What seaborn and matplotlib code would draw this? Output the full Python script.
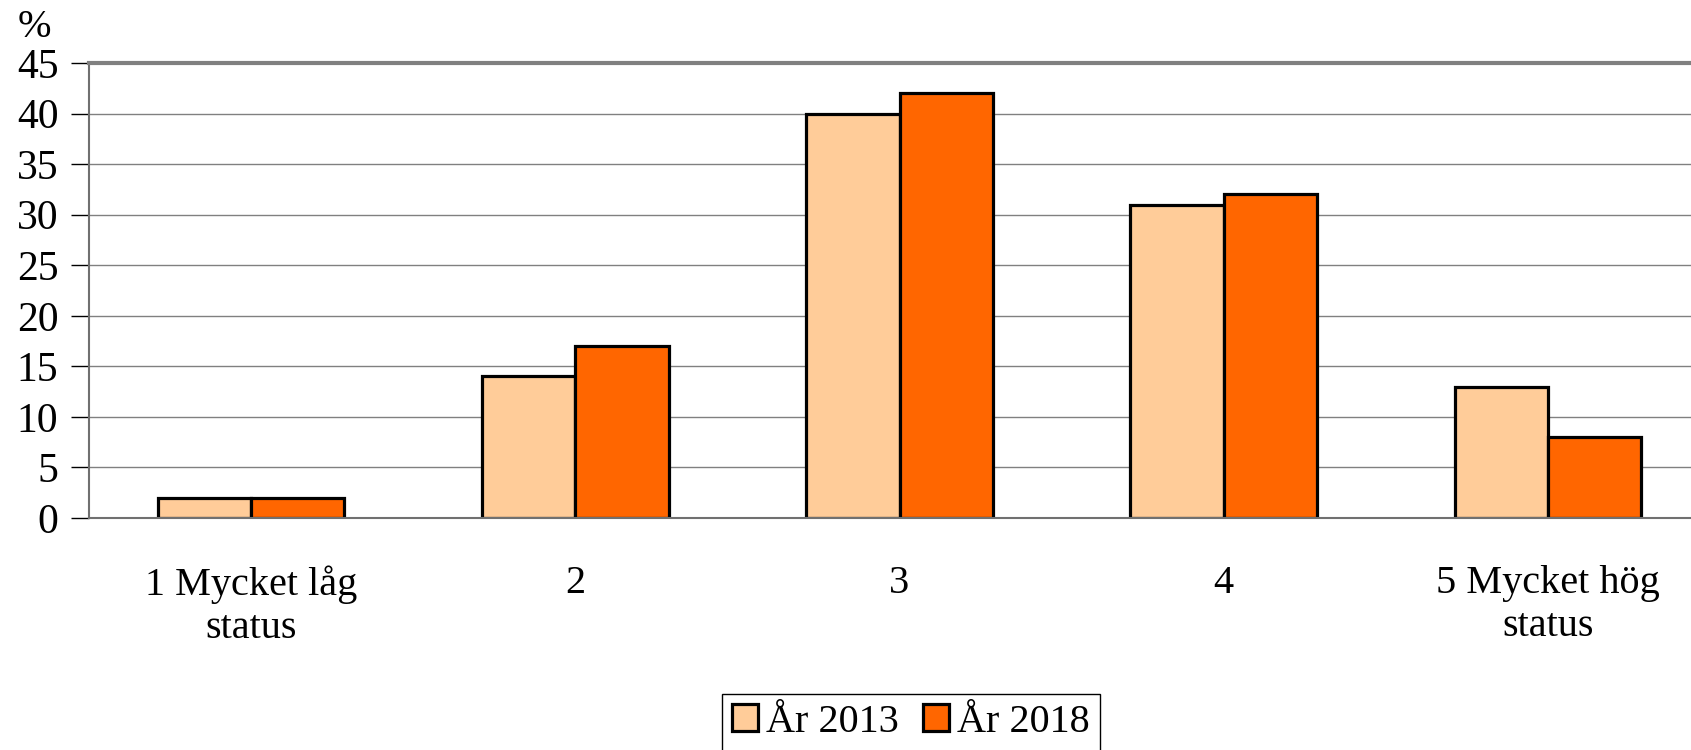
import pandas as pd
import seaborn as sns
import matplotlib.pyplot as plt
import numpy as np

# Data
categories = ["1 Mycket låg\nstatus", "2", "3", "4", "5 Mycket hög\nstatus"]
series_names = ["År 2013", "År 2018"]
values_2013 = [2, 14, 40, 31, 13]
values_2018 = [2, 17, 42, 32, 8]
y_ticks = [0, 5, 10, 15, 20, 25, 30, 35, 40, 45]

df = pd.DataFrame({
    "category": categories * 2,
    "year": [series_names[0]] * 5 + [series_names[1]] * 5,
    "value": values_2013 + values_2018,
})

sns.set_style("white")
plt.rcParams['font.family'] = ['Liberation Serif', 'DejaVu Serif']
plt.rcParams['text.color'] = 'black'
plt.rcParams['xtick.color'] = 'black'
plt.rcParams['ytick.color'] = 'black'
plt.rcParams['xtick.labelcolor'] = 'black'
plt.rcParams['ytick.labelcolor'] = 'black'
FS = 29

fig = plt.figure(figsize=(16.91, 7.5), dpi=100)
ax = fig.add_axes([89 / 1691, (750 - 518) / 750, (1710 - 89) / 1691, (518 - 63) / 750])

sns.barplot(data=df, x="category", y="value", hue="year",
            order=categories, hue_order=series_names,
            palette=["#FFCC99", "#FF6600"], width=0.575,
            edgecolor="black", linewidth=2.3, saturation=1, ax=ax)

ax.set_ylim(0, 45)
ax.set_xlim(-0.5, 4.5)
ax.set_yticks(y_ticks)
ax.set_yticklabels([str(t) for t in y_ticks], fontsize=30)
ax.yaxis.grid(True, color="#808080", linewidth=1)
ax.set_axisbelow(True)
ax.set_xlabel("")
ax.set_ylabel("")

# category labels without ticks, boundary ticks as minor ticks
ax.set_xticks(range(len(categories)))
ax.set_xticklabels(categories, fontsize=FS, linespacing=1.22)
ax.set_xticks(np.arange(-0.5, len(categories)), minor=True)
ax.tick_params(axis="x", which="major", length=0, pad=34)
ax.tick_params(axis="x", which="minor", length=10, width=1, direction="out")
ax.tick_params(axis="y", length=13, width=1, direction="out", pad=9, left=True)

for side in ["left", "bottom"]:
    ax.spines[side].set_color("#707070")
    ax.spines[side].set_linewidth(1.5)
ax.spines["top"].set_color("#808080")
ax.spines["top"].set_linewidth(3)
ax.spines["right"].set_visible(False)

# unit label above the y axis
fig.text(18 / 1691, 1 - 37 / 750, "%", fontsize=FS, ha="left", va="baseline")

handles, labels = ax.get_legend_handles_labels()
ax.legend(handles, labels, loc="upper center", bbox_to_anchor=(911 / 1691, 1 - 694 / 750),
          bbox_transform=fig.transFigure, ncol=2, fontsize=FS, frameon=True,
          fancybox=False, edgecolor="black", framealpha=1, borderpad=0.25,
          handlelength=0.65, handleheight=0.65, handletextpad=0.2, columnspacing=0.6,
          borderaxespad=0)
leg = ax.get_legend()
leg.get_frame().set_linewidth(1)

fig.savefig("out.png", dpi=100)
